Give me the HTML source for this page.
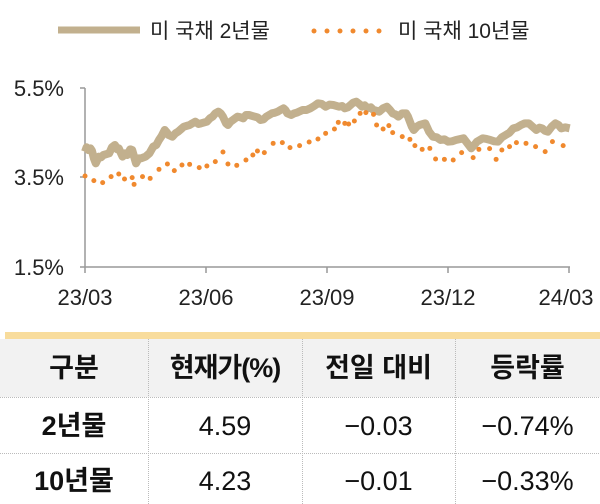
<!DOCTYPE html>
<html><head><meta charset="utf-8"><style>
body{margin:0;width:600px;height:504px;background:#fff;overflow:hidden;font-family:"Liberation Sans","Noto Sans CJK KR",sans-serif;color:#111}
.t{position:absolute;font-size:27px;text-align:center;line-height:32px}
</style></head><body>
<svg width="600" height="504" style="position:absolute;left:0;top:0" font-family="Liberation Sans, Noto Sans CJK KR, sans-serif">
<line x1="58" y1="30" x2="140" y2="30" stroke="#c2b08e" stroke-width="7"/>
<text x="150" y="38" font-size="21" fill="#222">미 국채 2년물</text>
<g fill="#f0892e"><circle cx="314" cy="31" r="2.5"/><circle cx="327" cy="31" r="2.5"/><circle cx="340" cy="31" r="2.5"/><circle cx="353" cy="31" r="2.5"/><circle cx="366" cy="31" r="2.5"/><circle cx="379" cy="31" r="2.5"/></g>
<text x="398" y="38" font-size="21" fill="#222">미 국채 10년물</text>
<g stroke="#999" stroke-width="1.5"><line x1="85" y1="88" x2="85" y2="267"/><line x1="85" y1="267" x2="570" y2="267"/>
<line x1="80" y1="88" x2="85" y2="88"/><line x1="80" y1="177" x2="85" y2="177"/><line x1="80" y1="267" x2="85" y2="267"/>
<line x1="85" y1="267" x2="85" y2="273"/><line x1="206" y1="267" x2="206" y2="273"/><line x1="327" y1="267" x2="327" y2="273"/><line x1="448" y1="267" x2="448" y2="273"/><line x1="569" y1="267" x2="569" y2="273"/></g>
<g font-size="22" fill="#222" text-anchor="end"><text x="64" y="96">5.5%</text><text x="64" y="185">3.5%</text><text x="64" y="275">1.5%</text></g>
<g font-size="22" fill="#222" text-anchor="middle"><text x="85" y="305">23/03</text><text x="206" y="305">23/06</text><text x="327" y="305">23/09</text><text x="448" y="305">23/12</text><text x="566" y="305">24/03</text></g>
<g transform="translate(0,60) scale(0.3831,0.3333)">
<path vector-effect="non-scaling-stroke" fill="none" stroke="#c2b08e" stroke-width="8" stroke-linejoin="round" d="M222,275 L226,262 230,270 236,265 240,272 245,295 250,310 258,290 264,292 270,285 285,280 292,262 300,255 306,268 310,265 320,290 326,280 332,285 340,268 345,270 350,290 355,310 362,295 368,295 380,290 390,280 400,260 408,255 415,240 422,228 430,210 436,218 440,225 450,230 458,220 465,215 472,208 480,200 495,195 502,190 510,185 518,192 525,190 540,185 548,175 555,170 562,160 570,155 576,160 582,170 590,190 595,195 602,185 608,180 620,170 628,172 635,175 642,165 650,165 665,170 672,172 680,180 688,178 695,170 710,160 718,158 725,155 732,150 740,145 745,150 750,160 760,165 768,160 775,158 790,150 800,150 810,145 820,138 830,130 840,132 850,140 860,134 870,135 885,140 893,138 900,145 908,142 915,135 922,128 930,125 938,132 945,140 952,136 960,145 968,142 975,150 982,152 990,155 1000,145 1010,140 1018,150 1025,160 1032,163 1040,170 1050,160 1060,160 1065,170 1070,185 1075,200 1080,210 1088,200 1095,195 1110,190 1116,205 1120,215 1130,230 1140,232 1150,240 1160,238 1170,245 1180,244 1190,240 1210,235 1220,250 1230,265 1238,255 1245,245 1260,235 1270,237 1280,240 1290,244 1300,245 1310,232 1320,225 1330,218 1340,205 1350,202 1360,195 1370,190 1380,190 1390,200 1400,210 1408,203 1415,205 1422,212 1430,215 1440,200 1450,190 1458,195 1465,205 1475,202 1487,205"/>
<g fill="#f0892e">
<ellipse cx="222" cy="348" rx="6.5" ry="7.5"/><ellipse cx="245" cy="362" rx="6.5" ry="7.5"/><ellipse cx="268" cy="368" rx="6.5" ry="7.5"/><ellipse cx="290" cy="350" rx="6.5" ry="7.5"/><ellipse cx="310" cy="342" rx="6.5" ry="7.5"/><ellipse cx="325" cy="357" rx="6.5" ry="7.5"/><ellipse cx="345" cy="353" rx="6.5" ry="7.5"/><ellipse cx="350" cy="373" rx="6.5" ry="7.5"/><ellipse cx="372" cy="350" rx="6.5" ry="7.5"/><ellipse cx="392" cy="355" rx="6.5" ry="7.5"/><ellipse cx="415" cy="328" rx="6.5" ry="7.5"/><ellipse cx="437" cy="312" rx="6.5" ry="7.5"/><ellipse cx="455" cy="332" rx="6.5" ry="7.5"/><ellipse cx="475" cy="315" rx="6.5" ry="7.5"/><ellipse cx="495" cy="313" rx="6.5" ry="7.5"/><ellipse cx="520" cy="323" rx="6.5" ry="7.5"/><ellipse cx="540" cy="318" rx="6.5" ry="7.5"/><ellipse cx="562" cy="305" rx="6.5" ry="7.5"/><ellipse cx="582" cy="276" rx="6.5" ry="7.5"/><ellipse cx="595" cy="312" rx="6.5" ry="7.5"/><ellipse cx="618" cy="316" rx="6.5" ry="7.5"/><ellipse cx="642" cy="300" rx="6.5" ry="7.5"/><ellipse cx="660" cy="285" rx="6.5" ry="7.5"/><ellipse cx="672" cy="273" rx="6.5" ry="7.5"/><ellipse cx="690" cy="278" rx="6.5" ry="7.5"/><ellipse cx="713" cy="250" rx="6.5" ry="7.5"/><ellipse cx="737" cy="248" rx="6.5" ry="7.5"/><ellipse cx="757" cy="263" rx="6.5" ry="7.5"/><ellipse cx="782" cy="257" rx="6.5" ry="7.5"/><ellipse cx="807" cy="246" rx="6.5" ry="7.5"/><ellipse cx="830" cy="237" rx="6.5" ry="7.5"/><ellipse cx="850" cy="220" rx="6.5" ry="7.5"/><ellipse cx="873" cy="207" rx="6.5" ry="7.5"/><ellipse cx="883" cy="187" rx="6.5" ry="7.5"/><ellipse cx="900" cy="190" rx="6.5" ry="7.5"/><ellipse cx="910" cy="192" rx="6.5" ry="7.5"/><ellipse cx="925" cy="183" rx="6.5" ry="7.5"/><ellipse cx="940" cy="160" rx="6.5" ry="7.5"/><ellipse cx="955" cy="158" rx="6.5" ry="7.5"/><ellipse cx="975" cy="163" rx="6.5" ry="7.5"/><ellipse cx="983" cy="195" rx="6.5" ry="7.5"/><ellipse cx="1000" cy="207" rx="6.5" ry="7.5"/><ellipse cx="1015" cy="197" rx="6.5" ry="7.5"/><ellipse cx="1025" cy="218" rx="6.5" ry="7.5"/><ellipse cx="1050" cy="230" rx="6.5" ry="7.5"/><ellipse cx="1070" cy="238" rx="6.5" ry="7.5"/><ellipse cx="1083" cy="257" rx="6.5" ry="7.5"/><ellipse cx="1102" cy="268" rx="6.5" ry="7.5"/><ellipse cx="1122" cy="265" rx="6.5" ry="7.5"/><ellipse cx="1137" cy="297" rx="6.5" ry="7.5"/><ellipse cx="1160" cy="298" rx="6.5" ry="7.5"/><ellipse cx="1183" cy="300" rx="6.5" ry="7.5"/><ellipse cx="1205" cy="278" rx="6.5" ry="7.5"/><ellipse cx="1235" cy="293" rx="6.5" ry="7.5"/><ellipse cx="1250" cy="268" rx="6.5" ry="7.5"/><ellipse cx="1278" cy="266" rx="6.5" ry="7.5"/><ellipse cx="1295" cy="298" rx="6.5" ry="7.5"/><ellipse cx="1310" cy="270" rx="6.5" ry="7.5"/><ellipse cx="1330" cy="260" rx="6.5" ry="7.5"/><ellipse cx="1348" cy="248" rx="6.5" ry="7.5"/><ellipse cx="1373" cy="250" rx="6.5" ry="7.5"/><ellipse cx="1398" cy="260" rx="6.5" ry="7.5"/><ellipse cx="1423" cy="275" rx="6.5" ry="7.5"/><ellipse cx="1442" cy="245" rx="6.5" ry="7.5"/><ellipse cx="1470" cy="257" rx="6.5" ry="7.5"/>
</g></g>
<rect x="5" y="332" width="595" height="7" fill="#f8dc9c"/>
<rect x="0" y="339" width="600" height="58" fill="#f2f2f2"/>
<g stroke="#bbb" stroke-width="1" stroke-dasharray="1,1"><line x1="0" y1="397.5" x2="600" y2="397.5"/><line x1="0" y1="453.5" x2="600" y2="453.5"/>
<line x1="148.5" y1="339" x2="148.5" y2="504"/><line x1="302.5" y1="339" x2="302.5" y2="504"/><line x1="455.5" y1="339" x2="455.5" y2="504"/></g>
</svg>
<div class="t" style="left:0;width:148px;top:352px;font-weight:bold">구분</div>
<div class="t" style="left:148px;width:154px;top:352px;font-weight:bold;letter-spacing:-1px">현재가(%)</div>
<div class="t" style="left:302px;width:153px;top:352px;font-weight:bold">전일 대비</div>
<div class="t" style="left:455px;width:145px;top:352px;font-weight:bold">등락률</div>
<div class="t" style="left:0;width:148px;top:410px;font-weight:bold">2년물</div>
<div class="t" style="left:148px;width:154px;top:410px">4.59</div>
<div class="t" style="left:302px;width:153px;top:410px">−0.03</div>
<div class="t" style="left:455px;width:145px;top:410px">−0.74%</div>
<div class="t" style="left:0;width:148px;top:465px;font-weight:bold">10년물</div>
<div class="t" style="left:148px;width:154px;top:465px">4.23</div>
<div class="t" style="left:302px;width:153px;top:465px">−0.01</div>
<div class="t" style="left:455px;width:145px;top:465px">−0.33%</div>
</body></html>
